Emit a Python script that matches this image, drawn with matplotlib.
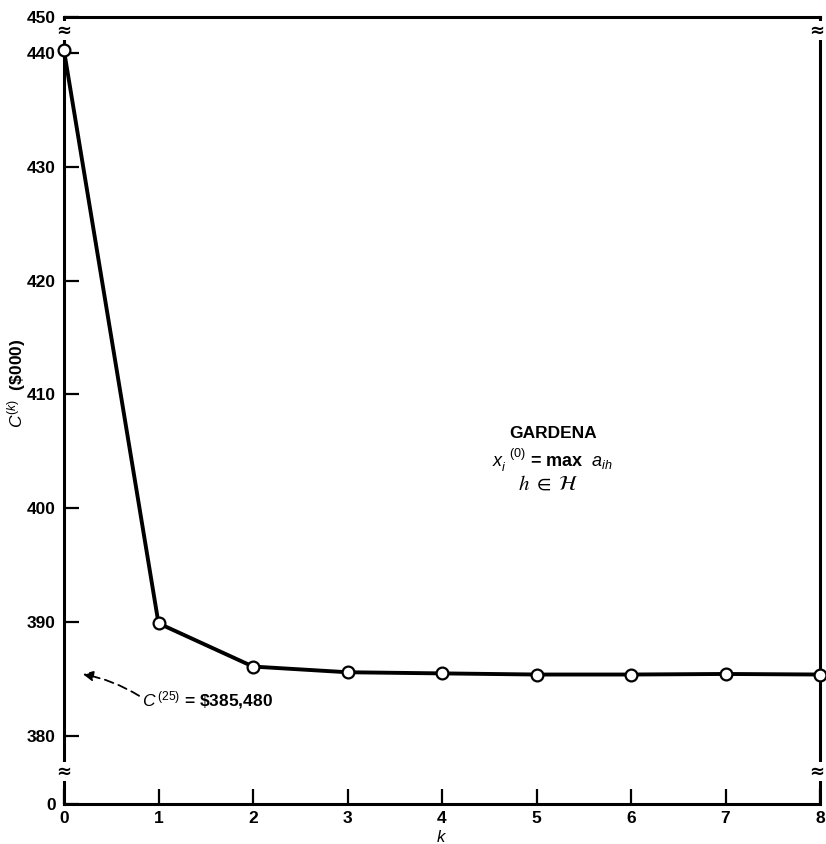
"""Gardena: cost C(k) vs iteration k, with broken y axis"""
import numpy as np
import matplotlib
matplotlib.use('Agg')
import matplotlib.pyplot as plt
import matplotlib.transforms as mtransforms

plt.rcParams['font.family'] = ['Liberation Sans', 'DejaVu Sans']
plt.rcParams['mathtext.fontset'] = 'custom'
plt.rcParams['mathtext.rm'] = 'Liberation Sans'
plt.rcParams['mathtext.it'] = 'Liberation Sans:italic'
plt.rcParams['mathtext.bf'] = 'Liberation Sans:bold'

"""data read off the picture"""
k_values = [0, 1, 2, 3, 4, 5, 6, 7, 8]
cost_values = [440.7, 389.9, 386.1, 385.6, 385.5, 385.4, 385.4, 385.45, 385.4]
final_cost = 385.48
y_tick_values = [0, 380, 390, 400, 410, 420, 430, 440, 450]
y_tick_labels = ['0', '380', '390', '400', '410', '420', '430', '440', '450']

"""broken axis: 0..380 squeezed, 380..440 linear, 440..450 squeezed"""
knot_vals = np.array([0.0, 380.0, 440.0, 450.0])
knot_pos = np.array([0.0, 68.0, 751.0, 787.0])


def fwd(v):
    return np.interp(v, knot_vals, knot_pos)


def inv(p):
    return np.interp(p, knot_pos, knot_vals)


fig = plt.figure(figsize=(8.26, 8.44), dpi=100)
ax = fig.add_axes([64 / 826, 40 / 844, 756 / 826, 787 / 844])
ax.set_yscale('function', functions=(fwd, inv))
ax.set_xlim(0, 8)
ax.set_ylim(0, 450)

ax.plot(k_values, cost_values, color='black', linewidth=2.8, marker='o',
        markersize=8.5, markerfacecolor='white', markeredgecolor='black',
        markeredgewidth=1.6, zorder=5, clip_on=False)

"""ticks and spines"""
ax.set_xticks(k_values)
ax.set_yticks(y_tick_values)
ax.set_yticklabels(y_tick_labels)
ax.tick_params(direction='in', length=11, width=1.6, labelsize=12.5, pad=5)
ax.tick_params(axis='y', pad=6)
ax.tick_params(right=False, top=False)
for lab in ax.get_xticklabels() + ax.get_yticklabels():
    lab.set_fontweight('bold')
for sp in ax.spines.values():
    sp.set_linewidth(2.2)

"""break marks on both side spines"""
trans = mtransforms.blended_transform_factory(ax.transAxes, ax.transAxes)
for xs in [0, 0.995]:
    for ys in [0.983, 0.041]:
        ax.text(xs, ys, '\u2248', transform=trans, ha='center', va='center',
                fontsize=13, fontweight='bold', family='DejaVu Sans',
                bbox=dict(facecolor='white', edgecolor='none', pad=0.3), zorder=6)

"""labels"""
ax.set_xlabel('$k$', fontsize=12, labelpad=2)
ax.set_ylabel(r'$C^{(k)}$  (\$000)', fontsize=12.5, fontweight='bold')
ax.yaxis.set_label_coords(-0.048, 0.535)

"""annotation for converged value"""
ax.annotate('', xy=(0.17, final_cost), xytext=(0.82, 383.4),
            arrowprops=dict(arrowstyle='-|>', color='black', lw=1.3,
                            linestyle=(0, (5, 3)), mutation_scale=15,
                            connectionstyle='arc3,rad=0.1'))
ax.text(0.83, 383.2, r'$C^{\,(25)}$ = \$385,480', fontsize=12.5, fontweight='bold',
        ha='left', va='center')

"""text block"""
ax.text(5.17, 406.6, 'GARDENA', fontsize=12.5, fontweight='bold', ha='center', va='center')
ax.text(5.17, 404.2, r'$x_i^{\ \ (0)}$ = max  $a_{ih}$', fontsize=13, fontweight='bold',
        ha='center', va='center')
ax.text(5.12, 402.1, r'$h\ \in\ \mathcal{H}$', fontsize=15, ha='center', va='center',
        math_fontfamily='stix')

fig.savefig('out.png', dpi=100)
